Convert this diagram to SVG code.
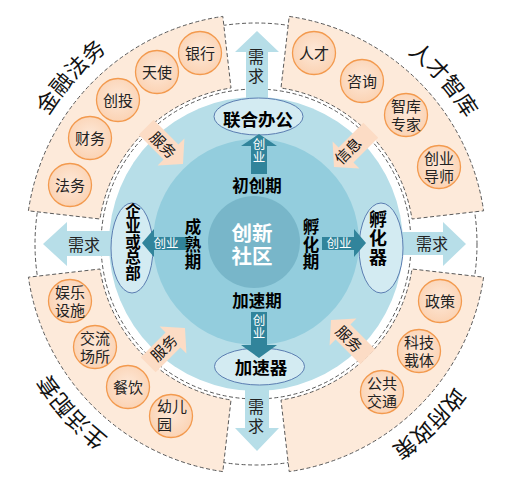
<svg xmlns="http://www.w3.org/2000/svg" width="519" height="494" viewBox="0 0 519 494">
<style>
text{font-family:"Noto Sans CJK SC","Noto Sans",sans-serif;}
.v{writing-mode:vertical-rl;text-anchor:middle;}
.sector{fill:#fdeada;stroke:#595959;stroke-width:1;stroke-dasharray:4 2.5;}
.ring{fill:#ffffff;stroke:#595959;stroke-width:1;stroke-dasharray:4 2.5;}
.sc{fill:url(#cg);stroke:#f39a4e;stroke-width:1.3;}
.sct{font-family:"Liberation Sans","Noto Sans CJK SC",sans-serif;font-size:15px;fill:#222;text-anchor:middle;}
.title{font-size:22px;fill:#111;text-anchor:middle;}
.need{fill:#b7dee8;}
.needt{font-size:16px;fill:#222;text-anchor:middle;}
.cy{fill:#31849b;}
.cyt{font-size:12.5px;fill:#ffffff;text-anchor:middle;}
.ell{fill:#d3ebf2;stroke:#5b7db1;stroke-width:1;}
.bold{font-weight:700;fill:#000;text-anchor:middle;}
.ctr{font-family:"Liberation Sans","Noto Sans CJK SC",sans-serif;font-weight:700;font-size:20.5px;fill:#fff;text-anchor:middle;}
.serv{fill:#fcdcc5;}
.servt{font-size:15px;fill:#111;text-anchor:middle;}
</style>
<defs>
<radialGradient id="cg" cx="50%" cy="45%" r="55%">
<stop offset="0" stop-color="#fde8d8"/>
<stop offset="1" stop-color="#fbd3b4"/>
</radialGradient>
<path id="tp" d="M 500,244 A 244,244 0 1 1 12,244 A 244,244 0 1 1 500,244"/>
<polygon id="sarrow" points="-52,-10.5 -17,-10.5 -17,-19 0,0 -17,19 -17,10.5 -52,10.5"/>
</defs>

<g id="background">
<circle class="ring" cx="256" cy="244" r="221"/>
</g>

<g id="sector-finance">
<path class="sector" d="M 28.4,210.8 A 230,230 0 0 1 222.8,16.4 L 231,88 A 157,157 0 0 0 100,219 Z"/>
</g>
<g id="sector-talent">
<path class="sector" d="M 289.2,16.4 A 230,230 0 0 1 483.6,210.8 L 412,219 A 157,157 0 0 0 281,88 Z"/>
</g>
<g id="sector-gov">
<path class="sector" d="M 483.6,277.2 A 230,230 0 0 1 289.2,471.6 L 281,400 A 157,157 0 0 0 412,269 Z"/>
</g>
<g id="sector-life">
<path class="sector" d="M 222.8,471.6 A 230,230 0 0 1 28.4,277.2 L 100,269 A 157,157 0 0 0 231,400 Z"/>
</g>

<g id="disc">
<circle class="ring" cx="256" cy="244" r="155"/>
<circle cx="256" cy="244" r="147" fill="#b7dee8"/>
</g>

<g id="connectors">
<g id="need-arrows">
<polygon class="need" points="246,100 246,52 235,52 257,31 279,52 268,52 268,100"/>
<text class="needt v" x="256" y="68" letter-spacing="3">需求</text>
<polygon class="need" points="245,388 245,428 235,428 257,451 279,428 269,428 269,388"/>
<text class="needt v" x="256" y="418" letter-spacing="3">需求</text>
<polygon class="need" points="112,231 67,231 67,222 43,244 67,266 67,256 112,256"/>
<text class="needt" x="84" y="251">需求</text>
<polygon class="need" points="401,232 443,232 443,222 466,244 443,266 443,255 401,255"/>
<text class="needt" x="432" y="250">需求</text>
</g>
</g>

<g id="phase-circle">
<circle cx="256" cy="242" r="103" fill="#93cddd"/>
<circle cx="254" cy="242" r="46" fill="#78b6c9"/>
</g>

<g id="node-office">
<ellipse class="ell" cx="258.5" cy="116.5" rx="44.5" ry="18.5"/>
<text class="bold" x="258" y="125.5" font-size="17.5">联合办公</text>
</g>
<g id="node-accelerator">
<ellipse class="ell" cx="259.5" cy="366.5" rx="45" ry="18.5"/>
<text class="bold" x="261" y="374" font-size="17.5">加速器</text>
</g>
<g id="node-hq">
<ellipse class="ell" cx="132" cy="248" rx="21" ry="45"/>
<text class="bold v" x="133" y="242" font-size="15.5">企业或总部</text>
</g>
<g id="node-incubator">
<ellipse class="ell" cx="381" cy="248" rx="22" ry="45"/>
<text class="bold v" x="378" y="239" font-size="18" letter-spacing="1">孵化器</text>
</g>

<g id="connectors-startup">
<polygon class="cy" points="251,174 251,146 241,146 259,134 277,146 267,146 267,174"/>
<text class="cyt v" x="259" y="151" letter-spacing="0.5">创业</text>
<polygon class="cy" points="251,312 251,345 241,345 259,358 277,345 267,345 267,312"/>
<text class="cyt v" x="259" y="327" letter-spacing="0.5">创业</text>
<polygon class="cy" points="188,237 154,237 154,229 142,243 154,257 154,250 188,250"/>
<text class="cyt" x="166" y="247.5">创业</text>
<polygon class="cy" points="322,237 354,237 354,229 366,243 354,257 354,250 322,250"/>
<text class="cyt" x="339" y="247.5">创业</text>
</g>

<g id="node-center">
<text class="ctr" x="252" y="240.5">创新</text>
<text class="ctr" x="252" y="263.5">社区</text>
</g>
<g id="phase-labels">
<text class="bold" x="257" y="192" font-size="16.5">初创期</text>
<text class="bold" x="257" y="307" font-size="16.5">加速期</text>
<text class="bold v" x="193" y="245" font-size="16.5" letter-spacing="1">成熟期</text>
<text class="bold v" x="311" y="245" font-size="16.5" letter-spacing="1">孵化期</text>
</g>

<g id="connectors-service">
<use href="#sarrow" class="serv" transform="translate(183,164) rotate(45)"/>
<use href="#sarrow" class="serv" transform="translate(334,167) rotate(135)"/>
<use href="#sarrow" class="serv" transform="translate(185,328) rotate(-45)"/>
<use href="#sarrow" class="serv" transform="translate(331,320) rotate(-135)"/>
<text class="servt" transform="translate(163,145) rotate(45)" y="5.5">服务</text>
<text class="servt" transform="translate(348,151) rotate(-45)" y="5.5">信息</text>
<text class="servt" transform="translate(164,348) rotate(-45)" y="5.5">服务</text>
<text class="servt" transform="translate(349,339) rotate(45)" y="5.5">服务</text>
</g>

<g id="finance-items">
<circle class="sc" cx="200" cy="53" r="21.5"/><text class="sct" x="200" y="58.5">银行</text>
<circle class="sc" cx="157" cy="72" r="21.5"/><text class="sct" x="157" y="77.5">天使</text>
<circle class="sc" cx="118" cy="100" r="21.5"/><text class="sct" x="118" y="105.5">创投</text>
<circle class="sc" cx="90" cy="138" r="21.5"/><text class="sct" x="90" y="143.5">财务</text>
<circle class="sc" cx="70" cy="185" r="21.5"/><text class="sct" x="70" y="190.5">法务</text>
</g>
<g id="talent-items">
<circle class="sc" cx="314" cy="53" r="21.5"/><text class="sct" x="314" y="58.5">人才</text>
<circle class="sc" cx="362" cy="81" r="21.5"/><text class="sct" x="362" y="86.5">咨询</text>
<circle class="sc" cx="406" cy="115" r="21.5"/><text class="sct" x="406" y="111.5">智库</text><text class="sct" x="406" y="129.5">专家</text>
<circle class="sc" cx="439" cy="167" r="21.5"/><text class="sct" x="439" y="163.5">创业</text><text class="sct" x="439" y="181.5">导师</text>
</g>
<g id="life-items">
<circle class="sc" cx="70" cy="301" r="21.5"/><text class="sct" x="70" y="297.5">娱乐</text><text class="sct" x="70" y="315.5">设施</text>
<circle class="sc" cx="95" cy="347" r="21.5"/><text class="sct" x="95" y="343.5">交流</text><text class="sct" x="95" y="361.5">场所</text>
<circle class="sc" cx="128" cy="387" r="21.5"/><text class="sct" x="128" y="392.5">餐饮</text>
<circle class="sc" cx="171" cy="416" r="21.5"/><text class="sct" x="157" y="411.5" style="text-anchor:start">幼儿</text><text class="sct" x="157" y="429.5" style="text-anchor:start">园</text>
</g>
<g id="gov-items">
<circle class="sc" cx="440" cy="301" r="21.5"/><text class="sct" x="440" y="306.5">政策</text>
<circle class="sc" cx="419" cy="351" r="21.5"/><text class="sct" x="419" y="347.5">科技</text><text class="sct" x="419" y="365.5">载体</text>
<circle class="sc" cx="382" cy="392" r="21.5"/><text class="sct" x="382" y="388.5">公共</text><text class="sct" x="382" y="406.5">交通</text>
</g>

<g id="titles">
<text class="title"><textPath href="#tp" startOffset="945">金融法务</textPath></text>
<text class="title"><textPath href="#tp" startOffset="1357">人才智库</textPath></text>
<text class="title"><textPath href="#tp" startOffset="586">生活配套</textPath></text>
<text class="title"><textPath href="#tp" startOffset="196">政府政策</textPath></text>
</g>
</svg>
